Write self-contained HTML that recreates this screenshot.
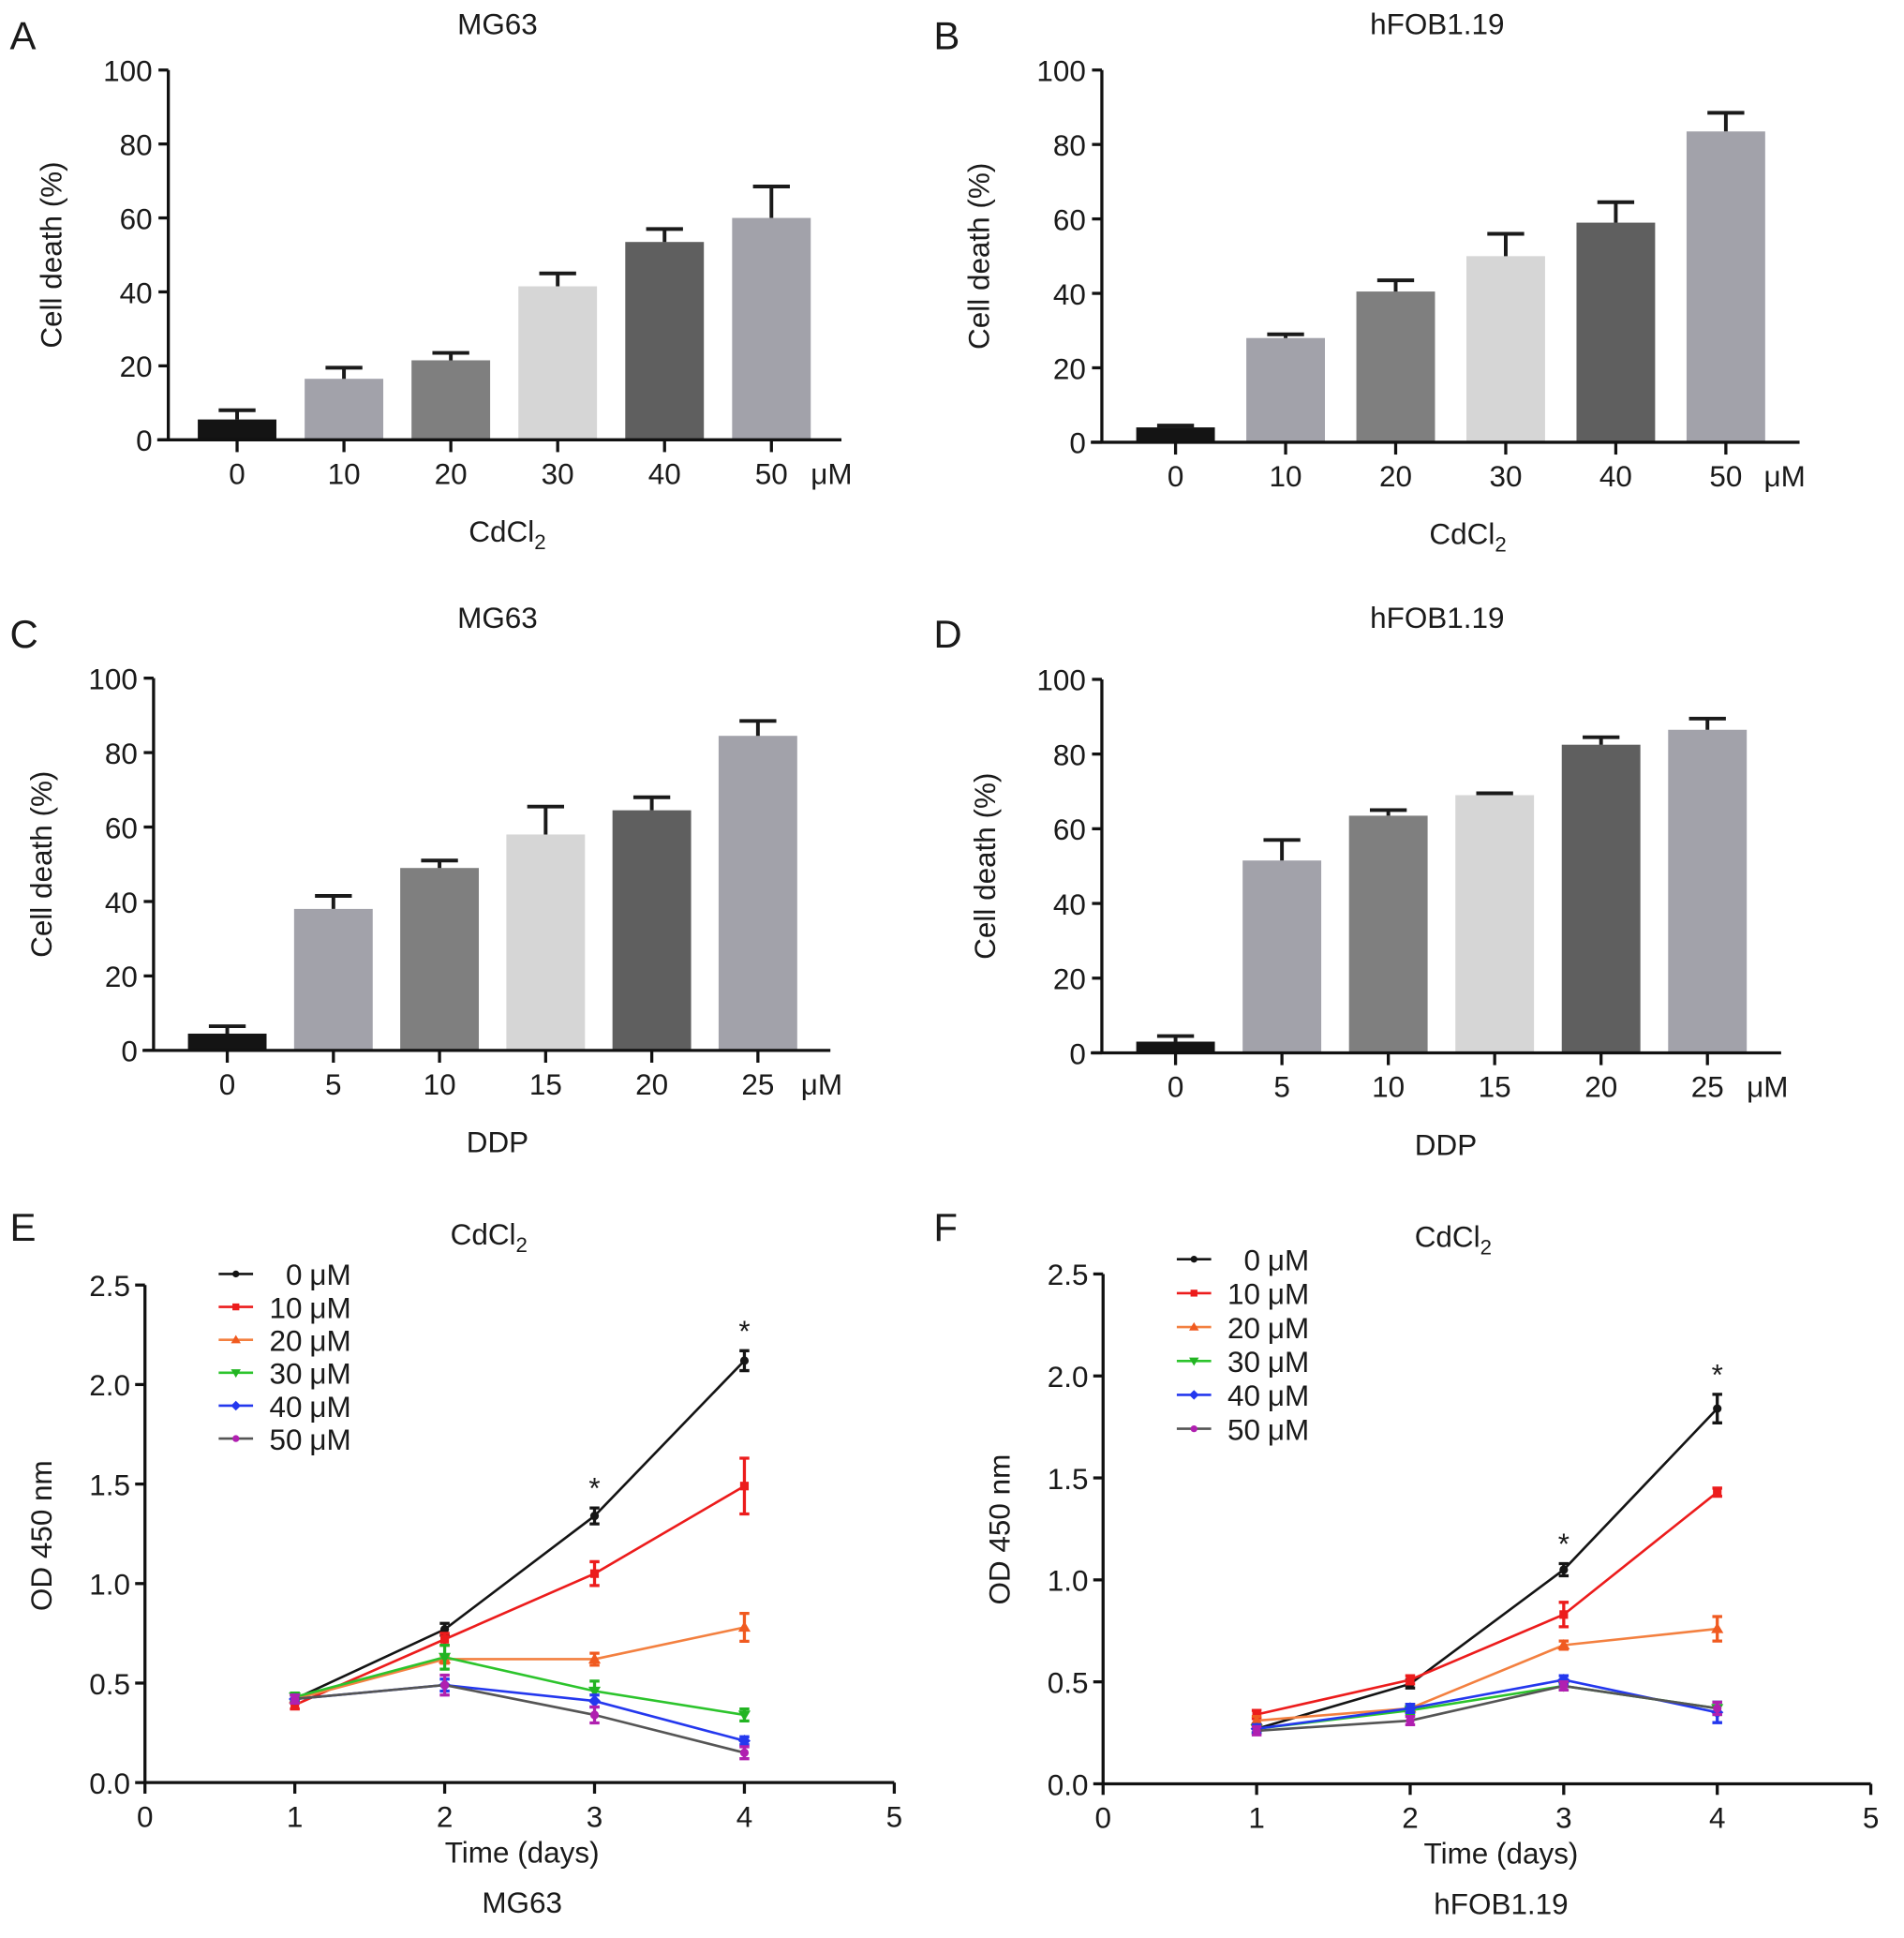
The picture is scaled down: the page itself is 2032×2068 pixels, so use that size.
<!DOCTYPE html>
<html><head><meta charset="utf-8"><style>
html,body{margin:0;padding:0;background:#fff;}
svg{display:block;}
text{font-family:"Liberation Sans",sans-serif;fill:#1a1a1a;}
</style></head><body>
<svg id="fig" width="2032" height="2068" viewBox="0 0 1550 1577.5" xmlns="http://www.w3.org/2000/svg"></svg>
<script>
// ---- Bar chart data ----
const catsCd = ["0","10","20","30","40","50"];
const catsDdp = ["0","5","10","15","20","25"];
const barA = [5.5,16.5,21.5,41.5,53.5,60];
const errA = [8,19.5,23.5,45,57,68.5];
const barB = [4,28,40.5,50,59,83.5];
const errB = [4.5,29,43.5,56,64.5,88.5];
const barC = [4.5,38,49,58,64.5,84.5];
const errC = [6.5,41.5,51,65.5,68,88.5];
const barD = [3,51.5,63.5,69,82.5,86.5];
const errD = [4.5,57,65,69.5,84.5,89.5];
const barTicks = [0,20,40,60,80,100];
// ---- Line chart data ----
const days = [1,2,3,4];
const lineTicksY = ["0.0","0.5","1.0","1.5","2.0","2.5"];
const lineTicksX = [0,1,2,3,4,5];
const seriesNames = ["0 μM","10 μM","20 μM","30 μM","40 μM","50 μM"];
const e0 = [0.42,0.77,1.34,2.12], e0err=[0.02,0.03,0.04,0.05];
const e10 = [0.39,0.72,1.05,1.49], e10err=[0.02,0.03,0.06,0.14];
const e20 = [0.42,0.62,0.62,0.78], e20err=[0.02,0.02,0.03,0.07];
const e30 = [0.43,0.63,0.46,0.34], e30err=[0.02,0.06,0.05,0.03];
const e40 = [0.42,0.49,0.41,0.21], e40err=[0.02,0.03,0.03,0.02];
const e50 = [0.42,0.49,0.34,0.15], e50err=[0.02,0.05,0.04,0.03];
const f0 = [0.27,0.49,1.05,1.84], f0err=[0.02,0.02,0.03,0.07];
const f10 = [0.34,0.51,0.83,1.43], f10err=[0.02,0.02,0.06,0.02];
const f20 = [0.31,0.37,0.68,0.76], f20err=[0.02,0.02,0.02,0.06];
const f30 = [0.27,0.36,0.48,0.37], f30err=[0.02,0.02,0.02,0.03];
const f40 = [0.27,0.37,0.51,0.35], f40err=[0.02,0.02,0.02,0.05];
const f50 = [0.26,0.31,0.48,0.37], f50err=[0.02,0.02,0.02,0.03];
const starDaysE = [3,4];
const starDaysF = [3,4];

const NS="http://www.w3.org/2000/svg";
const svg=document.getElementById('fig');
const FS=24;
function mk(tag,attrs,parent,txt){const e=document.createElementNS(NS,tag);for(const k in attrs)e.setAttribute(k,attrs[k]);if(txt!==undefined)e.textContent=txt;(parent||svg).appendChild(e);return e;}
const barColors=["#141414","#a2a2aa","#7f7f7f","#d6d6d6","#5f5f5f","#a2a2aa"];
const lineColors=["#141414","#ec1c1c","#f38040","#2cc42c","#2438ee","#555555"];
const markColors=["#141414","#ec1c1c","#f05a20","#22b422","#2438ee","#b020b0"];

function barPanel(o){
  const g=mk('g',{});  
  const y=v=>o.y0-(v/100)*(o.y0-o.y100);
  const t=mk('text',{x:o.letterX,y:o.letterY,'font-size':32},g,o.letter);
  
  const ti=mk('text',{x:o.titleX,y:o.titleY,'font-size':FS,'text-anchor':'middle'},g,o.title);
  
  const step=(o.xEnd-o.x0tick)/5;
  o.vals.forEach((v,i)=>{
    const cx=o.x0tick+i*step;
    const r=mk('rect',{x:cx-32,y:y(v),width:64,height:o.y0-y(v),fill:barColors[i]},g);
    
    const eb=mk('path',{d:`M${cx},${y(v)}V${y(o.errs[i])}M${cx-15},${y(o.errs[i])}H${cx+15}`,stroke:'#1a1a1a','stroke-width':3,fill:'none'},g);
    
    mk('line',{x1:cx,y1:o.y0,x2:cx,y2:o.y0+10,stroke:'#111','stroke-width':2.5},g);
    const tl=mk('text',{x:cx,y:o.y0+36,'font-size':FS,'text-anchor':'middle'},g,o.cats[i]);
    
  });
  const ax=mk('path',{d:`M${o.axX},${o.y100}V${o.y0}M${o.axX-9},${o.y0}H${o.axRight}`,stroke:'#111','stroke-width':2.5,fill:'none'},g);
  
  barTicks.forEach(v=>{
    mk('line',{x1:o.axX-8,y1:y(v),x2:o.axX,y2:y(v),stroke:'#111','stroke-width':2.5},g);
    const l=mk('text',{x:o.axX-13,y:y(v)+9,'font-size':FS,'text-anchor':'end'},g,v);
    
  });
  const u=mk('text',{x:o.uX,y:o.y0+36,'font-size':FS},g,'μM');
  
  const yt=mk('text',{x:0,y:0,'font-size':FS,'text-anchor':'middle',transform:`translate(${o.ylX},${(o.y0+o.y100)/2}) rotate(-90)`},g,'Cell death (%)');
  
  const xt=mk('text',{x:o.xtX,y:o.y0+83,'font-size':FS,'text-anchor':'middle'},g);
  
  if(o.cd){xt.appendChild(document.createTextNode('CdCl'));mk('tspan',{'font-size':17,dy:6},xt,'2');}
  else xt.textContent='DDP';
}
barPanel({name:'panel-a',letter:'A',letterX:8,letterY:40,title:'MG63',titleX:405,titleY:28,y0:358,y100:57,axX:137,axRight:685,x0tick:193,xEnd:628,cats:catsCd,vals:barA,errs:errA,uX:660,ylX:50,xtX:413,cd:true});
barPanel({name:'panel-b',letter:'B',letterX:760,letterY:40,title:'hFOB1.19',titleX:1170,titleY:28,y0:360,y100:57,axX:897,axRight:1465,x0tick:957,xEnd:1405,cats:catsCd,vals:barB,errs:errB,uX:1436,ylX:805,xtX:1195,cd:true});
barPanel({name:'panel-c',letter:'C',letterX:8,letterY:527,title:'MG63',titleX:405,titleY:511,y0:855,y100:552,axX:125,axRight:676,x0tick:185,xEnd:617,cats:catsDdp,vals:barC,errs:errC,uX:652,ylX:42,xtX:405,cd:false});
barPanel({name:'panel-d',letter:'D',letterX:760,letterY:527,title:'hFOB1.19',titleX:1170,titleY:511,y0:857,y100:553,axX:897,axRight:1450,x0tick:957,xEnd:1390,cats:catsDdp,vals:barD,errs:errD,uX:1422,ylX:810,xtX:1177,cd:false});

function marker(g,i,x,y,s){
  let e;
  if(i===0||i===5) e=mk('circle',{cx:x,cy:y,r:s*0.7,fill:markColors[i]},g);
  else if(i===1) e=mk('rect',{x:x-s*0.7,y:y-s*0.7,width:s*1.4,height:s*1.4,fill:markColors[i]},g);
  else if(i===2) e=mk('path',{d:`M${x},${y-s}L${x+s},${y+s*0.7}L${x-s},${y+s*0.7}Z`,fill:markColors[i]},g);
  else if(i===3) e=mk('path',{d:`M${x},${y+s}L${x+s},${y-s*0.7}L${x-s},${y-s*0.7}Z`,fill:markColors[i]},g);
  else e=mk('path',{d:`M${x},${y-s}L${x+s},${y}L${x},${y+s}L${x-s},${y}Z`,fill:markColors[i]},g);
  
}
function linePanel(o){
  const g=mk('g',{});  
  const X=d=>o.x0+(d/5)*(o.x5-o.x0);
  const Y=v=>o.y0-(v/2.5)*(o.y0-o.y25);
  const t=mk('text',{x:o.letterX,y:o.letterY,'font-size':32},g,o.letter);
  
  const ti=mk('text',{x:o.titleX,y:o.titleY,'font-size':FS,'text-anchor':'middle'},g);
  
  ti.appendChild(document.createTextNode('CdCl'));mk('tspan',{'font-size':17,dy:6},ti,'2');
  const ax=mk('path',{d:`M${o.x0},${o.y25}V${o.y0}H${o.x5}`,stroke:'#111','stroke-width':2.5,fill:'none'},g);
  
  lineTicksY.forEach(s=>{const v=parseFloat(s);
    mk('line',{x1:o.x0-8,y1:Y(v),x2:o.x0,y2:Y(v),stroke:'#111','stroke-width':2.5},g);
    const l=mk('text',{x:o.x0-12,y:Y(v)+9,'font-size':FS,'text-anchor':'end'},g,s);
    });
  lineTicksX.forEach(d=>{
    mk('line',{x1:X(d),y1:o.y0,x2:X(d),y2:o.y0+9,stroke:'#111','stroke-width':2.5},g);
    const l=mk('text',{x:X(d),y:o.y0+36,'font-size':FS,'text-anchor':'middle'},g,d);
    });
  const xt=mk('text',{x:o.xtX,y:o.y0+65,'font-size':FS,'text-anchor':'middle'},g,'Time (days)');
  
  const ct=mk('text',{x:o.xtX,y:o.y0+106,'font-size':FS,'text-anchor':'middle'},g,o.cell);
  
  const yt=mk('text',{x:0,y:0,'font-size':FS,'text-anchor':'middle',transform:`translate(${o.ylX},${o.ylY}) rotate(-90)`},g,'OD 450 nm');
  
  o.series.forEach((s,i)=>{
    const sg=mk('g',{},g);
    const p=mk('polyline',{points:days.map((d,k)=>X(d)+','+Y(s[k])).join(' '),fill:'none',stroke:lineColors[i],'stroke-width':2},sg);
    
    days.forEach((d,k)=>{const e=o.errs[i][k];
      const eb=mk('path',{d:`M${X(d)},${Y(s[k]-e)}V${Y(s[k]+e)}M${X(d)-4},${Y(s[k]-e)}H${X(d)+4}M${X(d)-4},${Y(s[k]+e)}H${X(d)+4}`,stroke:markColors[i],'stroke-width':2.5,fill:'none'},sg);
      
      marker(sg,i,X(d),Y(s[k]),5);});
    const ly=o.legY+i*o.legStep;
    mk('line',{x1:o.legX,y1:ly,x2:o.legX+28,y2:ly,stroke:lineColors[i],'stroke-width':2},sg);
    marker(sg,i,o.legX+14,ly,4);
    const lt=mk('text',{x:o.legX+68,y:ly+9,'font-size':FS,'text-anchor':'end'},sg,seriesNames[i].split(' ')[0]);
    
    mk('text',{x:o.legX+74,y:ly+9,'font-size':FS},sg,'μM');
  });
  o.stars.forEach(d=>{const k=days.indexOf(d);
    const st=mk('text',{x:X(d),y:Y(o.series[0][k]+o.errs[0][k])-8,'font-size':FS,'text-anchor':'middle'},g,'*');
    });
}
linePanel({name:'panel-e',letter:'E',letterX:8,letterY:1010,titleX:398,titleY:1013,x0:118,x5:728,y0:1451,y25:1046,xtX:425,cell:'MG63',ylX:42,ylY:1250,legX:178,legY:1037,legStep:26.8,series:[e0,e10,e20,e30,e40,e50],errs:[e0err,e10err,e20err,e30err,e40err,e50err],stars:starDaysE});
linePanel({name:'panel-f',letter:'F',letterX:760,letterY:1010,titleX:1183,titleY:1015,x0:898,x5:1523,y0:1452,y25:1037,xtX:1222,cell:'hFOB1.19',ylX:822,ylY:1245,legX:958,legY:1025,legStep:27.6,series:[f0,f10,f20,f30,f40,f50],errs:[f0err,f10err,f20err,f30err,f40err,f50err],stars:starDaysF});
</script>
</body></html>
